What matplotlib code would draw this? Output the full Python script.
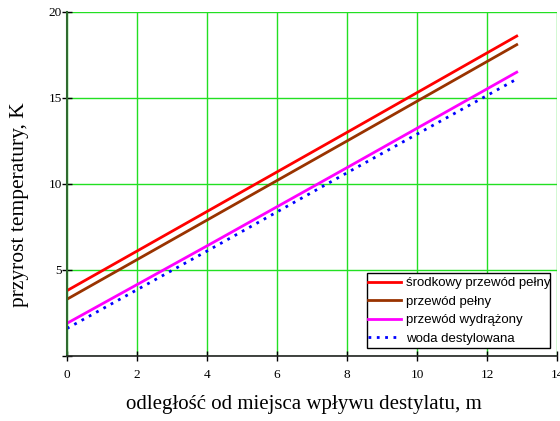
import numpy as np
import matplotlib.pyplot as plt
from matplotlib.patches import Rectangle

x = [0, 4, 8, 12.85]
srodkowy = [3.8, 8.4, 13.0, 18.6]
pelny = [3.3, 7.9, 12.5, 18.1]
wydrazony = [1.9, 6.4, 10.95, 16.5]
woda = [1.6, 6.1, 10.65, 16.1]

labels = ['środkowy przewód pełny', 'przewód pełny', 'przewód wydrążony', 'woda destylowana']

fig = plt.figure(figsize=(5.6, 4.21), dpi=100)
ax = fig.add_axes([0.1196, 0.1544, 0.8750, 0.8171])

ax.plot(x, srodkowy, color='#ff0000', lw=2, label=labels[0])
ax.plot(x, pelny, color='#993300', lw=2, label=labels[1])
ax.plot(x, wydrazony, color='#ff00ff', lw=2, label=labels[2])
ax.plot(x, woda, color='#0000ff', lw=2, ls=(0, (1, 2)), label=labels[3])

ax.set_xlim(0, 14)
ax.set_ylim(0, 20)
ax.set_xticks(np.arange(0, 15, 2))
ax.set_yticks([0, 5, 10, 15, 20])
ax.set_yticklabels(['', '5', '10', '15', '20'])
ax.grid(True, color='#22e022', lw=1)
ax.set_axisbelow(True)

for s in ['top', 'right']:
    ax.spines[s].set_visible(False)
ax.spines['left'].set_color('#2f6b2f')
ax.spines['left'].set_linewidth(1.5)
ax.spines['bottom'].set_color('#222222')
ax.spines['bottom'].set_linewidth(1.2)

ax.tick_params(direction='inout', length=7, width=1, colors='black',
               labelsize=9.5, pad=6)
for t in ax.get_xticklabels() + ax.get_yticklabels():
    t.set_fontfamily('Liberation Serif')
ax.tick_params(axis='y', pad=0)

fig.text(304 / 560, 1 - 404 / 421, 'odległość od miejsca wpływu destylatu, m',
         family='Liberation Serif', fontsize=15, ha='center', va='center')
fig.text(20 / 560, 1 - 205 / 421, 'przyrost temperatury, K',
         family='Liberation Serif', fontsize=15.5, ha='center', va='center',
         rotation=90)

# ramka legendy jest węższa niż tekst (jak w oryginale)
ax.add_patch(Rectangle((367 / 560, 1 - 348 / 421), 183 / 560, 75 / 421,
                       transform=fig.transFigure, facecolor='white',
                       edgecolor='black', lw=1, zorder=4, clip_on=False))
leg = ax.legend(loc='upper left', bbox_to_anchor=(368 / 560, 1 - 277 / 421),
                bbox_transform=fig.transFigure, frameon=False,
                prop={'family': 'Liberation Sans', 'size': 9.5},
                borderaxespad=0, borderpad=0, handlelength=2.5,
                labelspacing=0.48, handletextpad=0.4)
leg.set_zorder(5)

fig.savefig('out.png', dpi=100)
